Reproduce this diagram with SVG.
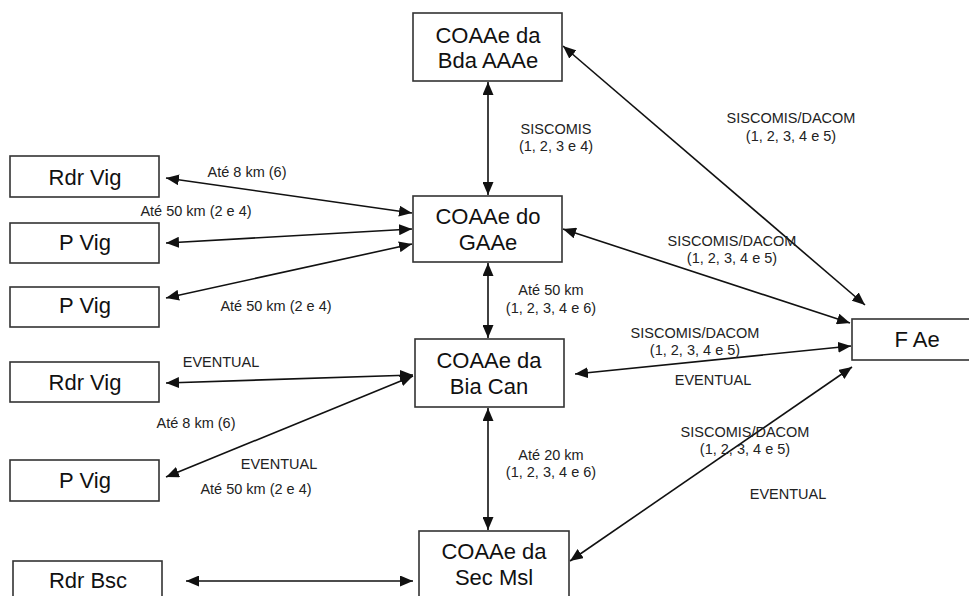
<svg xmlns="http://www.w3.org/2000/svg" width="969" height="596" viewBox="0 0 969 596">
<style>
.box{fill:#fff;stroke:#333;stroke-width:1.6}
.bt{font-family:"Liberation Sans",Arial,sans-serif;font-size:22px;fill:#111;text-anchor:middle}
.lb{font-family:"Liberation Sans",Arial,sans-serif;font-size:14.5px;fill:#222;text-anchor:middle}
.cn{stroke:#111;stroke-width:1.6;fill:none;marker-start:url(#ah);marker-end:url(#ah)}
</style>
<defs>
<marker id="ah" markerUnits="userSpaceOnUse" markerWidth="14" markerHeight="11" refX="13" refY="5.5" orient="auto-start-reverse">
<path d="M0,0 L13,5.5 L0,11 z" fill="#111"/>
</marker>
</defs>
<rect width="969" height="596" fill="#fff"/>
<g id="connectors">
<line class="cn" x1="488" y1="82" x2="488" y2="195"/>
<line class="cn" x1="488" y1="263" x2="488" y2="338"/>
<line class="cn" x1="488" y1="408" x2="488" y2="530"/>
<line class="cn" x1="166" y1="178" x2="412" y2="213"/>
<line class="cn" x1="166" y1="243" x2="412" y2="229"/>
<line class="cn" x1="166" y1="298" x2="412" y2="244"/>
<line class="cn" x1="166" y1="383" x2="413" y2="375"/>
<line class="cn" x1="166" y1="477" x2="413" y2="376"/>
<line class="cn" x1="186" y1="581" x2="413" y2="581"/>
<line class="cn" x1="563" y1="46" x2="865" y2="305"/>
<line class="cn" x1="563" y1="229" x2="850" y2="323"/>
<line class="cn" x1="575" y1="374" x2="851" y2="346"/>
<line class="cn" x1="570" y1="561" x2="852" y2="367"/>
</g>
<g id="bda"><rect class="box" x="413" y="13" width="149" height="68"/><text class="bt" x="488" y="43">COAAe da</text><text class="bt" x="488" y="68">Bda AAAe</text></g>
<g id="gaae"><rect class="box" x="413" y="196" width="149" height="66"/><text class="bt" x="488" y="224">COAAe do</text><text class="bt" x="488" y="250">GAAe</text></g>
<g id="biacan"><rect class="box" x="415" y="339" width="149" height="68"/><text class="bt" x="489" y="368">COAAe da</text><text class="bt" x="489" y="394">Bia Can</text></g>
<g id="secmsl"><rect class="box" x="419" y="531" width="150" height="80"/><text class="bt" x="494" y="559">COAAe da</text><text class="bt" x="494" y="585">Sec Msl</text></g>
<g id="fae"><rect class="box" x="852" y="319" width="130" height="41"/><text class="bt" x="917" y="347">F Ae</text></g>
<g id="rdrvig1"><rect class="box" x="10" y="156" width="149" height="41"/><text class="bt" x="85" y="185">Rdr Vig</text></g>
<g id="pvig1"><rect class="box" x="10" y="223" width="149" height="40"/><text class="bt" x="85" y="250">P Vig</text></g>
<g id="pvig2"><rect class="box" x="10" y="287" width="149" height="40"/><text class="bt" x="85" y="313">P Vig</text></g>
<g id="rdrvig2"><rect class="box" x="10" y="362" width="149" height="40"/><text class="bt" x="85" y="390">Rdr Vig</text></g>
<g id="pvig3"><rect class="box" x="10" y="460" width="149" height="41"/><text class="bt" x="85" y="488">P Vig</text></g>
<g id="rdrbsc"><rect class="box" x="13" y="561" width="149" height="50"/><text class="bt" x="88" y="588">Rdr Bsc</text></g>
<g id="labels">
<text class="lb" x="556" y="134">SISCOMIS</text>
<text class="lb" x="556" y="151">(1, 2, 3 e 4)</text>
<text class="lb" x="791" y="123">SISCOMIS/DACOM</text>
<text class="lb" x="791" y="141">(1, 2, 3, 4 e 5)</text>
<text class="lb" x="732" y="246">SISCOMIS/DACOM</text>
<text class="lb" x="732" y="263">(1, 2, 3, 4 e 5)</text>
<text class="lb" x="551" y="295">Até 50 km</text>
<text class="lb" x="551" y="313">(1, 2, 3, 4 e 6)</text>
<text class="lb" x="247" y="177">Até 8 km (6)</text>
<text class="lb" x="196" y="216">Até 50 km (2 e 4)</text>
<text class="lb" x="276" y="311">Até 50 km (2 e 4)</text>
<text class="lb" x="221" y="367">EVENTUAL</text>
<text class="lb" x="196" y="428">Até 8 km (6)</text>
<text class="lb" x="279" y="469">EVENTUAL</text>
<text class="lb" x="256" y="494">Até 50 km (2 e 4)</text>
<text class="lb" x="695" y="338">SISCOMIS/DACOM</text>
<text class="lb" x="695" y="355">(1, 2, 3, 4 e 5)</text>
<text class="lb" x="713" y="385">EVENTUAL</text>
<text class="lb" x="551" y="460">Até 20 km</text>
<text class="lb" x="551" y="477">(1, 2, 3, 4 e 6)</text>
<text class="lb" x="745" y="437">SISCOMIS/DACOM</text>
<text class="lb" x="745" y="454">(1, 2, 3, 4 e 5)</text>
<text class="lb" x="788" y="499">EVENTUAL</text>
</g>
</svg>
